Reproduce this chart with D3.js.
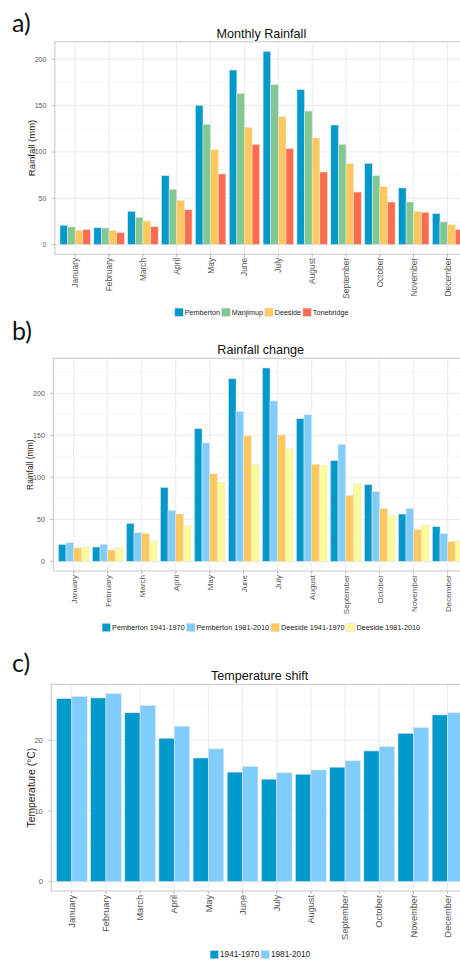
<!DOCTYPE html>
<html>
<head>
<meta charset="utf-8">
<script src="https://cdn.jsdelivr.net/npm/d3@7"></script>
<style>
  html, body { margin: 0; padding: 0; background: #fff; }
  svg { display: block; }
  text { font-family: "Liberation Sans", Arial, sans-serif; }
</style>
</head>
<body>
<script>
// month categories (shared by all three panels)
const months = ["January", "February", "March", "April", "May", "June",
   "July", "August", "September", "October", "November", "December"];

// a) Monthly Rainfall (mm)
const rainSites = ["Pemberton", "Manjimup", "Deeside", "Tonebridge"];
const pemberton = [20.9, 18.3, 36, 74.5, 150.4, 188.5, 208.6, 167.3, 129.1, 87.8, 61.2, 33.5];
const manjimup = [19.1, 18, 29.5, 59.7, 129.9, 163, 172.7, 144.2, 108.3, 74.5, 46, 24.5];
const deeside = [15.5, 15.1, 25.5, 47.8, 102.5, 126.6, 138.1, 115.1, 87.4, 62.6, 36, 21.6];
const tonebridge = [16.2, 13, 19.4, 37.8, 76.3, 108.3, 103.6, 78.4, 56.8, 46, 34.9, 16.2];

// b) Rainfall change (mm)
const changeSeries = ["Pemberton 1941-1970", "Pemberton 1981-2010", "Deeside 1941-1970", "Deeside 1981-2010"];
const pemberton4170 = [20.2, 17.1, 45.2, 88.1, 157.9, 217.5, 230.2, 169.8, 119.8, 91.3, 56.3, 41.3];
const pemberton8110 = [22.2, 20.2, 34.1, 60.7, 140.9, 178.2, 190.9, 174.6, 139.3, 82.9, 63.1, 32.9];
const deeside4170 = [15.9, 13.5, 32.9, 56.3, 104, 149.2, 150.4, 115.5, 78.6, 62.7, 37.7, 23.4];
const deeside8110 = [17.1, 16.3, 23.8, 42.5, 94, 115.1, 134.1, 114.3, 92.1, 54.4, 42.9, 24.2];

// c) Temperature shift (°C)
const tempPeriods = ["1941-1970", "1981-2010"];
const temp4170 = [25.9, 26.0, 23.9, 20.3, 17.5, 15.5, 14.5, 15.2, 16.2, 18.5, 21.0, 23.6];
const temp8110 = [26.2, 26.6, 24.9, 22.0, 18.8, 16.3, 15.4, 15.8, 17.1, 19.1, 21.8, 23.9];

const width = 460, height = 961;

const svg = d3.select("body").append("svg")
   .attr("width", width)
   .attr("height", height);

function drawPanel(p) {
   const g = svg.append("g");
   const values = p.series.map(s => s.values);
   const maxV = d3.max(values.flat());

   // ggplot-like expansion: 5% continuous, 0.6 units discrete
   const y = d3.scaleLinear()
      .domain([-0.05 * maxV, 1.05 * maxV])
      .range([p.bottom, p.top]);
   const x = d3.scaleBand()
      .domain(months)
      .range([p.left, p.right])
      .paddingInner(0.1)
      .paddingOuter(0.15);
   const xs = d3.scaleBand()
      .domain(p.series.map(s => s.name))
      .range([0, x.bandwidth()]);

   // minor gridlines
   const majors = p.ticks;
   const step = majors[1] - majors[0];
   const minors = d3.range(majors[0] - step / 2, y.domain()[1], step)
      .filter(v => v > y.domain()[0]);
   g.selectAll(".minor").data(minors).enter().append("line")
      .attr("x1", p.left).attr("x2", p.right)
      .attr("y1", d => y(d)).attr("y2", d => y(d))
      .style("stroke", "#f3f3f3").style("stroke-width", 0.6);
   g.selectAll(".major").data(majors).enter().append("line")
      .attr("x1", p.left).attr("x2", p.right)
      .attr("y1", d => y(d)).attr("y2", d => y(d))
      .style("stroke", "#e8e8e8").style("stroke-width", 0.9);
   g.selectAll(".vgrid").data(months).enter().append("line")
      .attr("x1", d => x(d) + x.bandwidth() / 2).attr("x2", d => x(d) + x.bandwidth() / 2)
      .attr("y1", p.top).attr("y2", p.bottom)
      .style("stroke", "#e8e8e8").style("stroke-width", 0.9);

   // bars
   p.series.forEach(s => {
      g.selectAll(null).data(s.values).enter().append("rect")
         .attr("x", (d, i) => x(months[i]) + xs(s.name))
         .attr("y", d => y(d))
         .attr("width", xs.bandwidth())
         .attr("height", d => y(0) - y(d))
         .style("fill", s.color)
         .style("stroke", "#e4e4e4")
         .style("stroke-width", 0.6);
   });

   // panel border
   g.append("rect")
      .attr("x", p.left).attr("y", p.top)
      .attr("width", p.right - p.left).attr("height", p.bottom - p.top)
      .style("fill", "none").style("stroke", "#c6c6c6").style("stroke-width", 1);

   // y axis ticks + labels
   g.selectAll(".ytick").data(majors).enter().append("line")
      .attr("x1", p.left - 3).attr("x2", p.left)
      .attr("y1", d => y(d)).attr("y2", d => y(d))
      .style("stroke", "#bbb");
   g.selectAll(".ylab").data(majors).enter().append("text")
      .attr("x", p.left - 8.5).attr("y", d => y(d))
      .attr("dy", "0.35em")
      .attr("text-anchor", "end")
      .style("font-size", p.yTickSize + "px")
      .style("fill", "#555")
      .text(d => d);

   // x axis ticks + rotated labels
   g.selectAll(".xtick").data(months).enter().append("line")
      .attr("x1", d => x(d) + x.bandwidth() / 2).attr("x2", d => x(d) + x.bandwidth() / 2)
      .attr("y1", p.bottom).attr("y2", p.bottom + 3)
      .style("stroke", "#bbb");
   g.selectAll(".xlab").data(months).enter().append("text")
      .attr("transform", d => `translate(${x(d) + x.bandwidth() / 2},${p.bottom + p.xLabGap}) rotate(-90)`)
      .attr("dy", "0.35em")
      .attr("text-anchor", "end")
      .style("font-size", p.xTickSize + "px")
      .style("fill", "#555")
      .text(d => d);

   // y title
   g.append("text")
      .attr("transform", `translate(${p.yTitleX},${(p.top + p.bottom) / 2}) rotate(-90)`)
      .attr("text-anchor", "middle")
      .style("font-size", p.yTitleSize + "px")
      .style("fill", "#222")
      .text(p.yTitle);

   // panel title
   g.append("text")
      .attr("x", (p.left + p.right) / 2)
      .attr("y", p.titleY)
      .attr("text-anchor", "middle")
      .style("font-size", "12.6px")
      .style("fill", "#111")
      .text(p.title);

   // panel letter
   g.append("text")
      .attr("x", 12)
      .attr("y", p.letterY)
      .style("font-family", "Lato, 'Open Sans', sans-serif")
      .style("font-size", "25px")
      .style("fill", "#111")
      .text(p.letter);

   // legend, centred on the panel
   const key = p.legendKey;
   const lg = g.append("g");
   let cx = 0;
   p.series.forEach(s => {
      lg.append("rect")
         .attr("x", cx).attr("y", -key / 2)
         .attr("width", key).attr("height", key)
         .style("fill", s.color)
         .style("stroke", "#e4e4e4").style("stroke-width", 0.6);
      const t = lg.append("text")
         .attr("x", cx + key + 1.5)
         .attr("y", 0)
         .attr("dy", "0.35em")
         .style("font-size", p.legendSize + "px")
         .style("fill", "#222")
         .text(s.name);
      cx += key + 1.5 + t.node().getComputedTextLength() + 1.8;
   });
   lg.attr("transform", `translate(${p.legendCx - cx / 2},${p.legendY})`);
}

drawPanel({
   letter: "a)", letterY: 32,
   title: "Monthly Rainfall", titleY: 37.5,
   left: 54.9, right: 467.9, top: 41.7, bottom: 254.3,
   ticks: [0, 50, 100, 150, 200], yTickSize: 7,
   xTickSize: 8.4, xLabGap: 3.5,
   yTitle: "Rainfall (mm)", yTitleX: 34.5, yTitleSize: 9.5,
   series: [
      { name: rainSites[0], values: pemberton, color: "#0099cc" },
      { name: rainSites[1], values: manjimup, color: "#82c893" },
      { name: rainSites[2], values: deeside, color: "#fec85c" },
      { name: rainSites[3], values: tonebridge, color: "#fb6d4e" }
   ],
   legendKey: 8.5, legendSize: 7.2, legendCx: 262.5, legendY: 312.3
});

drawPanel({
   letter: "b)", letterY: 340,
   title: "Rainfall change", titleY: 353.5,
   left: 53.3, right: 468.1, top: 358.3, bottom: 571,
   ticks: [0, 50, 100, 150, 200], yTickSize: 7,
   xTickSize: 8, xLabGap: 4,
   yTitle: "Rainfall (mm)", yTitleX: 32.5, yTitleSize: 8.5,
   series: [
      { name: changeSeries[0], values: pemberton4170, color: "#0099cc" },
      { name: changeSeries[1], values: pemberton8110, color: "#80ccfc" },
      { name: changeSeries[2], values: deeside4170, color: "#fec85c" },
      { name: changeSeries[3], values: deeside8110, color: "#fcfa9a" }
   ],
   legendKey: 8.5, legendSize: 7.3, legendCx: 262, legendY: 627.5
});

drawPanel({
   letter: "c)", letterY: 672,
   title: "Temperature shift", titleY: 679.5,
   left: 51.3, right: 468, top: 684.3, bottom: 891,
   ticks: [0, 10, 20], yTickSize: 7.5,
   xTickSize: 9.2, xLabGap: 4,
   yTitle: "Temperature (°C)", yTitleX: 34.5, yTitleSize: 10.4,
   series: [
      { name: tempPeriods[0], values: temp4170, color: "#0099cc" },
      { name: tempPeriods[1], values: temp8110, color: "#80ccfc" }
   ],
   legendKey: 8.5, legendSize: 8.2, legendCx: 261, legendY: 954.6
});
</script>
</body>
</html>
